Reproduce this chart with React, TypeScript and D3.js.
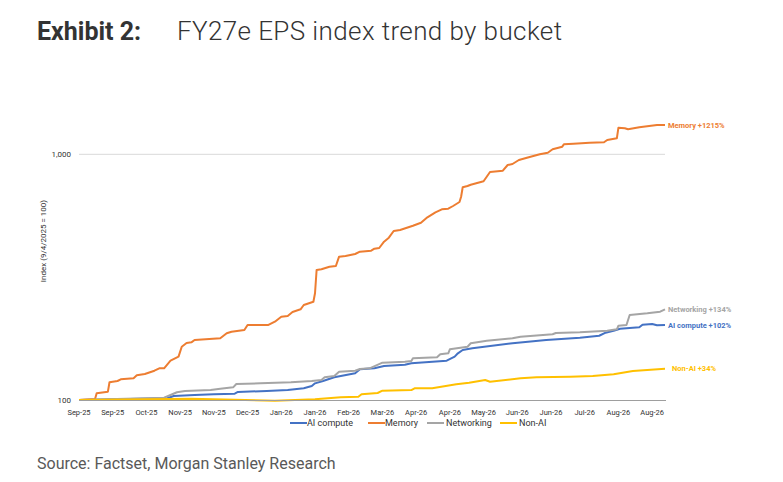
import React from 'react';
import * as d3 from 'd3';

// index values, as [days since 9/4/2025, index]
const aiCompute: [number, number][] = [
  [0, 100], [55, 101.6], [59, 103.8], [72, 104.8], [84, 105.5], [97, 106.1], [99, 107.8],
  [117, 108.8], [130, 109.8], [140, 111.6], [145, 114], [147, 116.9], [152, 119.5],
  [159, 123.7], [172, 128.4], [175, 133.3], [184, 134.6], [190, 137.5], [203, 139.2],
  [207, 141.1], [229, 144.5], [234, 150.1], [236, 154.9], [239, 159.8], [245, 162.3],
  [270, 170.2], [291, 175.5], [312, 179.3], [324, 182.6], [328, 187.9], [333, 191.4],
  [337, 195.1], [349, 197.6], [351, 202.5], [357, 203.9], [360, 201.4], [365, 202],
];

const memory: [number, number][] = [
  [0, 100], [10, 101], [11, 106.5], [18, 108.1], [19, 118.1], [24, 119.5], [26, 121.4],
  [34, 122.6], [36, 126], [41, 127.6], [47, 131.6], [50, 134.6], [53, 134.6], [57, 144.5],
  [62, 150.1], [64, 164.8], [67, 170.6], [70, 171.7], [72, 175.5], [88, 178.3], [92, 186.9],
  [95, 189.7], [103, 192.7], [105, 202], [118, 202], [122, 208.3], [126, 218.3], [130, 219.8],
  [133, 228.1], [138, 234], [140, 243.6], [146, 251.2], [147, 271.9], [148, 338.1],
  [151, 340.4], [156, 348.7], [160, 351.1], [162, 383.1], [166, 385.6], [172, 392.9],
  [175, 401.4], [182, 405.2], [184, 412.8], [187, 415.5], [190, 440.9], [193, 457.7],
  [196, 487.3], [200, 491.9], [208, 512.1], [213, 526.7], [217, 554.1], [222, 580.6],
  [226, 597.2], [230, 600.6], [233, 616], [237, 639.5], [238, 672], [239, 734.1],
  [242, 743], [244, 752.1], [252, 776.4], [256, 847.2], [264, 857.6], [267, 904.6],
  [270, 913], [274, 948], [279, 968.7], [287, 1000], [292, 1015], [295, 1048], [301, 1074],
  [302, 1098], [308, 1104], [318, 1115], [327, 1119], [329, 1143], [335, 1162], [336, 1283],
  [340, 1276], [342, 1264], [349, 1288], [360, 1316], [365, 1315],
];

const networking: [number, number][] = [
  [0, 100], [53, 102.2], [57, 104.8], [61, 107.5], [66, 108.8], [82, 109.8], [88, 111.2],
  [96, 112.6], [98, 116.2], [113, 116.9], [132, 118.1], [145, 119.5], [151, 120.6],
  [153, 123.7], [159, 125.2], [162, 130.4], [172, 131.6], [175, 133.7], [181, 134.6],
  [189, 141.9], [203, 143.2], [207, 144.1], [208, 147.8], [223, 149.2], [225, 153.5],
  [230, 154.9], [231, 160.8], [242, 164.8], [244, 170.2], [254, 174.4], [270, 178.3],
  [275, 181], [295, 185.1], [297, 187.4], [312, 188.6], [329, 191.4], [335, 194],
  [336, 200.6], [341, 202], [343, 221.8], [354, 225.4], [362, 228.8], [365, 234],
];

const nonAi: [number, number][] = [
  [0, 100], [70, 101.2], [122, 99.3], [147, 100.7], [163, 102.6], [174, 103.1], [176, 105.5],
  [186, 106.8], [189, 109.1], [207, 109.8], [209, 111.6], [220, 111.6], [235, 115.8],
  [243, 117.6], [253, 120.6], [256, 118.7], [275, 122.6], [285, 123.7], [306, 124.4],
  [320, 125.2], [333, 127.2], [345, 131.2], [365, 134],
];

const seriesNames = ['AI compute', 'Memory', 'Networking', 'Non-AI'];
const seriesData = [aiCompute, memory, networking, nonAi];
const seriesColors = ['#4472C4', '#ED7D31', '#A5A5A5', '#FFC000'];
const endLabels = ['AI compute +102%', 'Memory +1215%', 'Networking +134%', 'Non-AI +34%'];

const startDate = new Date(Date.UTC(2025, 8, 4));
const tickStepDays = 21;
const tickCount = 18;
const yTicks = [100, 1000];

const FONT = 'Roboto, "Noto Sans", sans-serif';

export default function App() {
  const width = 783;
  const height = 482;
  const left = 79;
  const right = 665;
  const bottom = 400;

  const x = d3.scaleUtc()
    .domain([startDate, d3.utcDay.offset(startDate, 365)])
    .range([left, right]);
  const y = d3.scaleLog().domain([100, 1000]).range([bottom, 154.3]);

  const line = d3.line<[number, number]>()
    .x(d => x(d3.utcDay.offset(startDate, d[0])))
    .y(d => y(d[1]));

  const ticks = d3.range(tickCount).map(i => d3.utcDay.offset(startDate, i * tickStepDays));
  const fmt = d3.utcFormat('%b-%y');

  const legendX = [290, 368, 427, 500];
  const legendText = [307, 385, 446, 519];
  const labelNudge = [0, 0, 0, 4];

  return (
    <svg width={width} height={height} style={{ position: 'absolute', left: 0, top: 0, background: '#fff' }}
      fontFamily={FONT}>
      <text x={37} y={40} fontSize={25} fill="#333" fontWeight={700}>Exhibit 2:</text>
      <text x={177} y={40} fontSize={26} fill="#333" fontWeight={300} textLength={385} lengthAdjust="spacing">
        FY27e EPS index trend by bucket
      </text>

      {/* gridline */}
      <line x1={left} x2={right} y1={y(1000)} y2={y(1000)} stroke="#d9d9d9" strokeWidth={1} />

      {yTicks.map(t => (
        <text key={t} x={71} y={y(t)} dy="0.35em" textAnchor="end" fontSize={8} fill="#333">
          {d3.format(',')(t)}
        </text>
      ))}

      <text transform={`translate(46,241) rotate(-90)`} textAnchor="middle" fontSize={8} fill="#333">
        Index (9/4/2025 = 100)
      </text>

      {seriesData.map((s, i) => (
        <path key={seriesNames[i]} d={line(s) ?? ''} fill="none" stroke={seriesColors[i]} strokeWidth={2}
          strokeLinejoin="round" />
      ))}

      {/* baseline */}
      <line x1={left} x2={right + 1} y1={bottom + 0.5} y2={bottom + 0.5} stroke="#9e9e9e" strokeWidth={1} />

      {ticks.map((t, i) => (
        <text key={i} x={x(t)} y={415} textAnchor="middle" fontSize={7.5} fill="#333">
          {fmt(t)}
        </text>
      ))}

      {seriesData.map((s, i) => {
        const last = s[s.length - 1];
        return (
          <text key={endLabels[i]} x={right + 3 + labelNudge[i]} y={y(last[1])} dy="0.35em" fontSize={7.5}
            fontWeight={700} fill={seriesColors[i]}>
            {endLabels[i]}
          </text>
        );
      })}

      {seriesNames.map((n, i) => (
        <g key={n}>
          <line x1={legendX[i]} x2={legendX[i] + 17} y1={423} y2={423} stroke={seriesColors[i]} strokeWidth={2} />
          <text x={legendText[i]} y={423} dy="0.35em" fontSize={9} fill="#333">{n}</text>
        </g>
      ))}

      <text x={37} y={469} fontSize={16} fill="#595959">Source: Factset, Morgan Stanley Research</text>
    </svg>
  );
}
